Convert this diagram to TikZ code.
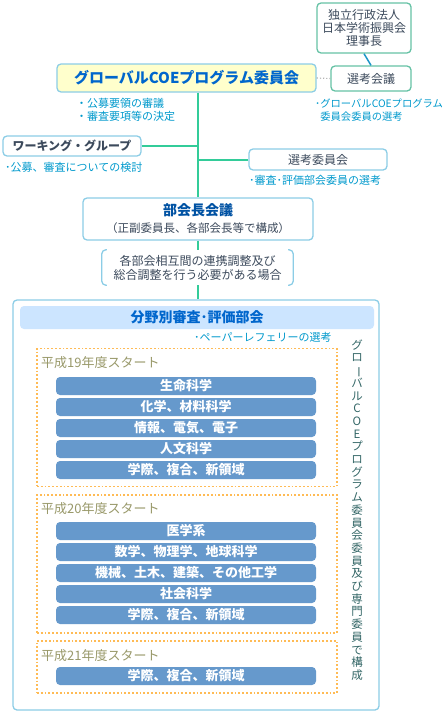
\documentclass[tikz,border=0pt]{standalone}
\usepackage{fontspec}
\setmainfont{Noto Sans CJK JP}
\usepackage{xcolor}
\usetikzlibrary{positioning}

\definecolor{boxgreen}{HTML}{66C2A5}
\definecolor{linkblue}{HTML}{1E96C8}
\definecolor{boxblue}{HTML}{8CCDE6}
\definecolor{trunkgreen}{HTML}{33CC99}
\definecolor{paleyellow}{HTML}{FFFFCC}
\definecolor{titleblue}{HTML}{0066CC}
\definecolor{notecol}{HTML}{0099CC}
\definecolor{darktext}{HTML}{3C4A5C}
\definecolor{bandfill}{HTML}{CCE5FF}
\definecolor{barblue}{HTML}{6699CC}
\definecolor{termorange}{HTML}{FFBB55}
\definecolor{termtext}{HTML}{99996A}
\definecolor{vcol}{HTML}{336666}

\newcommand{\fs}[1]{\fontsize{#1}{#1}\selectfont}

\begin{document}
\begin{tikzpicture}[x=1pt, y=-1pt,
    every node/.style={inner sep=0pt, text=darktext, font=\fs{12}},
    topbox/.style={draw=boxgreen, line width=1.3pt, rounded corners=4pt, fill=white},
    bluebox/.style={draw=boxblue, line width=1.3pt, rounded corners=4pt, fill=white},
    note/.style={text=notecol, font=\fontsize{11}{13}\selectfont, anchor=west, align=left},
    field/.style={fill=barblue, rounded corners=4pt, minimum width=260pt, minimum height=18pt,
        text=white, font=\bfseries\fs{13}},
    termbox/.style={draw=termorange, line width=1.8pt, dash pattern=on 1.8pt off 2pt,
        minimum width=300pt},
    termtitle/.style={text=termtext, anchor=west, font=\fs{13}},
    trunk/.style={draw=trunkgreen, line width=2pt},
    bracket/.style={draw=boxblue, line width=1.3pt, rounded corners=4pt}
]
\useasboundingbox (0,0) rectangle (444,715);

% top
\node[topbox, minimum width=94pt, minimum height=50pt, align=center,
    font=\fontsize{12}{13.3}\selectfont] (jsps) at (364,28)
    {独立行政法人\\日本学術振興会\\理事長};
\node[topbox, minimum width=80pt, minimum height=25pt] (senko) at (371,78.5) {選考会議};
\node[bluebox, fill=paleyellow, minimum width=259pt, minimum height=28pt,
    text=titleblue, font=\bfseries\fs{15}] (gcoe) at (186.5,78) {グローバルCOEプログラム委員会};
\draw[linkblue, line width=1.5pt] (jsps.south) -- (senko.north);
\draw[gray!60, line width=1.2pt, dash pattern=on 1.2pt off 2pt] (gcoe.east) -- (senko.west);
\node[note] (gcoe-note) at (76,110) {・公募要領の審議\\・審査要項等の決定};
\node[note, font=\fontsize{10.3}{13}\selectfont] (senko-note) at (315,110)
    {･グローバルCOEプログラム\\\phantom{･}委員会委員の選考};

% middle
\node[bluebox, minimum width=138pt, minimum height=20pt, font=\bfseries\fs{12}] (wg) at (72,146) {ワーキング・グループ};
\node[note] (wg-note) at (5,167) {･公募、審査についての検討};
\node[bluebox, minimum width=138pt, minimum height=21pt] (sc) at (318,159.5) {選考委員会};
\node[note] (sc-note) at (249,180) {･審査･評価部会委員の選考};
\node[bluebox, minimum width=230pt, minimum height=42pt, align=center] (bukai) at (198,219)
    {{\color{titleblue!80!black}\bfseries\fs{14}部会長会議}\\[5pt]
     {\fs{11.5}（正副委員長、各部会長等で構成）}};
\node[minimum width=191pt, minimum height=35pt, align=center,
    font=\fontsize{12}{14}\selectfont] (cond) at (197.5,267.5)
    {各部会相互間の連携調整及び\\総合調整を行う必要がある場合};
\draw[bracket] ([xshift=5pt]cond.north west) -- (cond.north west) -- (cond.south west) -- ([xshift=5pt]cond.south west);
\draw[bracket] ([xshift=-5pt]cond.north east) -- (cond.north east) -- (cond.south east) -- ([xshift=-5pt]cond.south east);

\draw[trunk] (gcoe.south -| bukai.north) -- (bukai.north);
\draw[trunk] (wg.east) -- (wg.east -| bukai.north);
\draw[trunk] (sc.west) -- (sc.west -| bukai.north);
\draw[trunk] (bukai.south -| cond.north) -- (cond.north);

% bottom
\node[bluebox, minimum width=366pt, minimum height=410pt] (panel) at (196,505) {};
\draw[trunk] (cond.south) -- (cond.south |- panel.north);
\node[fill=bandfill, rounded corners=4pt, minimum width=354pt, minimum height=23pt,
    text=titleblue, font=\bfseries\fs{14}] (bunya) at (197,317.5) {分野別審査･評価部会};
\node[note] (bunya-note) at (194,337) {･ペーパーレフェリーの選考};

\node[termbox, minimum height=138pt] (h19) at (187,417.5) {};
\node[termbox, minimum height=138pt] (h20) at (187,564) {};
\node[termbox, minimum height=52pt] (h21) at (187,667) {};
\node[termtitle] (h19-title) at (41,363) {平成19年度スタート};
\node[termtitle] (h20-title) at (41,509) {平成20年度スタート};
\node[termtitle] (h21-title) at (41,656) {平成21年度スタート};

\foreach \name [count=\i] in {生命科学, 化学、材料科学, 情報、電気、電子, 人文科学, 学際、複合、新領域}
    \node[field] (f19-\i) at (186,{365+21*\i}) {\name};
\foreach \name [count=\i] in {医学系, 数学、物理学、地球科学, 機械、土木、建築、その他工学, 社会科学, 学際、複合、新領域}
    \node[field] (f20-\i) at (186,{510+21*\i}) {\name};
\node[field] (f21-1) at (186,676) {学際、複合、新領域};

\node[text=vcol, align=center, font=\fontsize{11.5}{12.7}\selectfont] (members) at (357,510)
    {グ\\ロ\\\rotatebox[origin=c]{-90}{ー}\\バ\\ル\\C\\O\\E\\プ\\ロ\\グ\\ラ\\ム\\委\\員\\会\\委\\員\\及\\び\\専\\門\\委\\員\\で\\構\\成};
\end{tikzpicture}
\end{document}
